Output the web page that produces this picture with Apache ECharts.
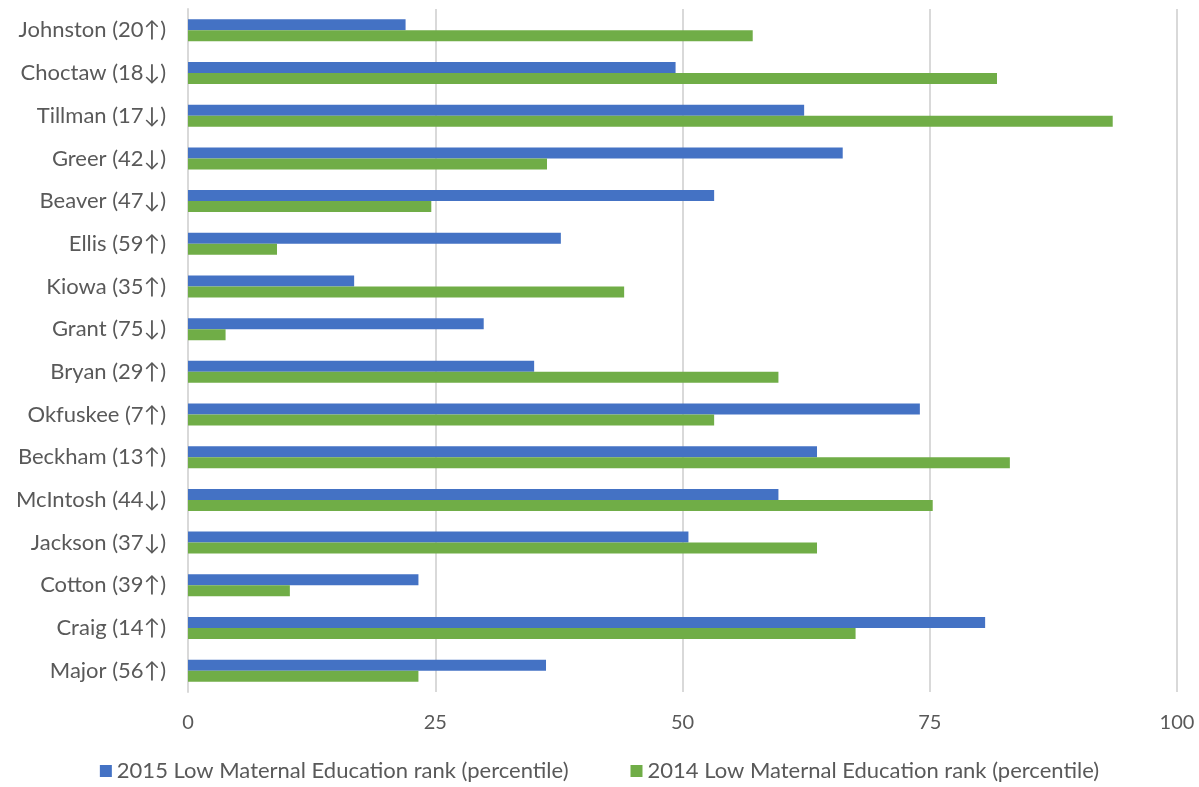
<!DOCTYPE html>
<html>
<head>
<meta charset="utf-8">
<script src="https://cdn.jsdelivr.net/npm/echarts@6/dist/echarts.min.js"></script>
<style>
  html, body { margin: 0; padding: 0; background: #fff; }
  #chart { width: 1199px; height: 787px; }
</style>
</head>
<body>
<div id="chart"></div>
<script>
// Counties, listed top to bottom
const counties = [
  'Johnston (20↑)', 'Choctaw (18↓)', 'Tillman (17↓)', 'Greer (42↓)',
  'Beaver (47↓)', 'Ellis (59↑)', 'Kiowa (35↑)', 'Grant (75↓)',
  'Bryan (29↑)', 'Okfuskee (7↑)', 'Beckham (13↑)', 'McIntosh (44↓)',
  'Jackson (37↓)', 'Cotton (39↑)', 'Craig (14↑)', 'Major (56↑)'
];
const rank2015 = [22.0, 49.3, 62.3, 66.2, 53.2, 37.7, 16.8, 29.9, 35.0, 74.0, 63.6, 59.7, 50.6, 23.3, 80.6, 36.2];
const rank2014 = [57.1, 81.8, 93.5, 36.3, 24.6, 9.0, 44.1, 3.8, 59.7, 53.2, 83.1, 75.3, 63.6, 10.3, 67.5, 23.3];
const xTicks = [0, 25, 50, 75, 100];
const seriesNames = ['2015 Low Maternal Education rank (percentile)', '2014 Low Maternal Education rank (percentile)'];

const FONT = 'Lato';
const TEXT = '#595959';

const chart = echarts.init(document.getElementById('chart'));
chart.setOption({
  animation: false,
  textStyle: { fontFamily: FONT },
  grid: { left: 188, right: 22, top: 9, bottom: 95, containLabel: false },
  legend: {
    bottom: 0,
    left: 'center',
    itemWidth: 12,
    itemHeight: 12,
    itemGap: 62,
    icon: 'rect',
    textStyle: { fontFamily: FONT, fontSize: 22, color: TEXT },
    data: seriesNames
  },
  xAxis: {
    type: 'value',
    min: xTicks[0],
    max: xTicks[xTicks.length - 1],
    interval: 25,
    axisLine: { show: false },
    axisTick: { show: false },
    axisLabel: { color: TEXT, fontSize: 20, margin: 21, fontFamily: FONT,
      formatter: v => xTicks.includes(v) ? String(v) : '' },
    splitLine: { show: true, lineStyle: { color: '#d9d9d9', width: 2 } }
  },
  yAxis: {
    type: 'category',
    data: counties,
    inverse: true,
    axisLine: { show: true, lineStyle: { color: '#d9d9d9', width: 2 } },
    axisTick: { show: false },
    axisLabel: { color: TEXT, fontSize: 22, margin: 22, fontFamily: FONT }
  },
  series: [
    {
      name: seriesNames[0], type: 'bar', data: rank2015,
      itemStyle: { color: '#4472C4' },
      barWidth: 11, barGap: '0%'
    },
    {
      name: seriesNames[1], type: 'bar', data: rank2014,
      itemStyle: { color: '#70AD47' },
      barWidth: 11, barGap: '0%'
    }
  ]
});
</script>
</body>
</html>
